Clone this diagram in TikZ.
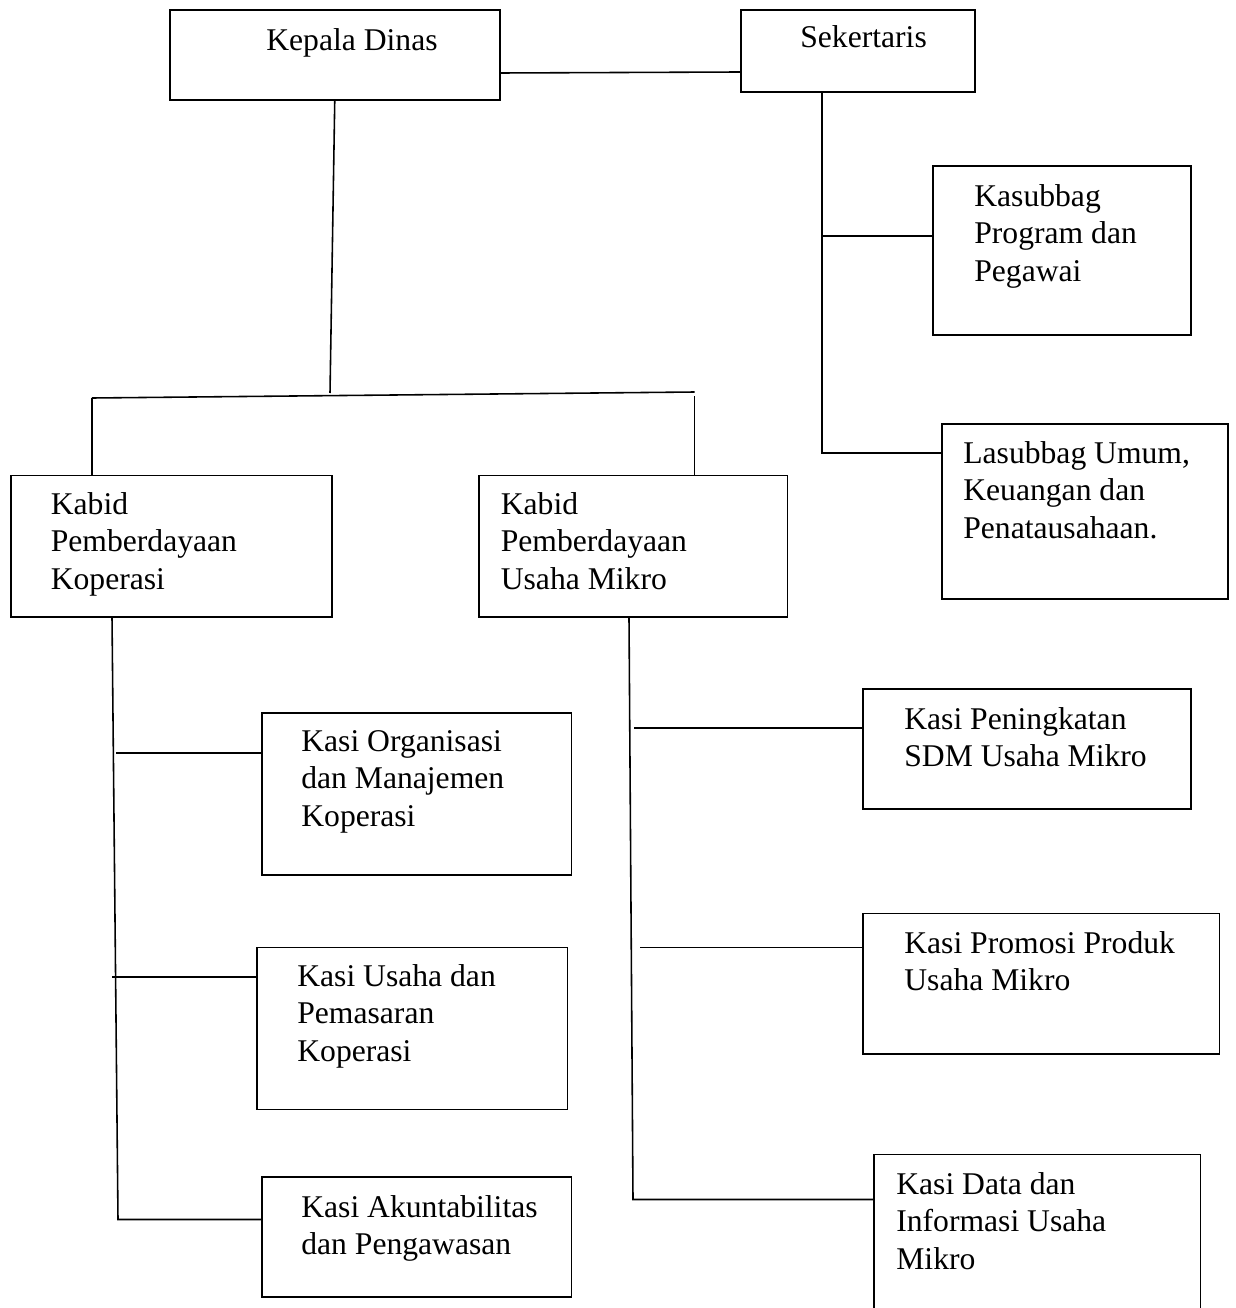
\documentclass[tikz,border=0pt]{standalone}
\usepackage{fontspec}
\setmainfont{Liberation Serif}

\begin{document}
\begin{tikzpicture}[x=0.02cm, y=-0.02cm,
    unit/.style={rectangle, draw, line width=1.1pt, inner sep=0pt},
    lbl/.style={anchor=north west, inner sep=0pt, align=left, font=\fontsize{18pt}{21.3pt}\selectfont},
    link/.style={line width=0.9pt}]
    \useasboundingbox (0,0) rectangle (1236,1308);
    \clip (0,0) rectangle (1236,1308);

    % Head and secretary
    \node[unit, minimum width=6.61cm, minimum height=1.80cm] (kadis) at (334.75,55) {};
    \node[lbl] (kadis-t) at (266,28) {Kepala Dinas};
    \node[unit, minimum width=4.68cm, minimum height=1.64cm] (sek) at (858,51) {};
    \node[lbl] (sek-t) at (800,25) {Sekertaris};

    % Secretariat units
    \node[unit, minimum width=5.17cm, minimum height=3.38cm] (kasubbag) at (1061.75,250.5) {};
    \node[lbl] (kasubbag-t) at (974,184) {Kasubbag\\Program dan\\Pegawai};
    \node[unit, minimum width=5.72cm, minimum height=3.50cm] (lasubbag) at (1085,511.5) {};
    \node[lbl] (lasubbag-t) at (963,441) {Lasubbag Umum,\\Keuangan dan\\Penatausahaan.};

    % Divisions
    \node[unit, minimum width=6.42cm, minimum height=2.83cm] (kabidkop) at (171.5,546.25) {};
    \node[lbl] (kabidkop-t) at (50.5,492) {Kabid\\Pemberdayaan\\Koperasi};
    \node[unit, minimum width=6.17cm, minimum height=2.83cm] (kabidum) at (633.25,546.25) {};
    \node[lbl] (kabidum-t) at (500.5,492) {Kabid\\Pemberdayaan\\Usaha Mikro};

    % Sections under cooperatives
    \node[unit, minimum width=6.19cm, minimum height=3.24cm] (kasiorg) at (416.75,794) {};
    \node[lbl] (kasiorg-t) at (301,730) {Kasi Organisasi\\dan Manajemen\\Koperasi};
    \node[unit, minimum width=6.21cm, minimum height=3.24cm] (kasiusaha) at (412.25,1028.5) {};
    \node[lbl] (kasiusaha-t) at (297,964) {Kasi Usaha dan\\Pemasaran\\Koperasi};
    \node[unit, minimum width=6.19cm, minimum height=2.40cm] (kasiakun) at (416.75,1237) {};
    \node[lbl] (kasiakun-t) at (301,1195) {Kasi Akuntabilitas\\dan Pengawasan};

    % Sections under micro business
    \node[unit, minimum width=6.56cm, minimum height=2.40cm] (kasisdm) at (1027,749) {};
    \node[lbl] (kasisdm-t) at (904,707) {Kasi Peningkatan\\SDM Usaha Mikro};
    \node[unit, minimum width=7.13cm, minimum height=2.81cm] (kasipromo) at (1041.25,983.7) {};
    \node[lbl] (kasipromo-t) at (904,931) {Kasi Promosi Produk\\Usaha Mikro};
    \node[unit, minimum width=6.53cm, minimum height=3.71cm] (kasidata) at (1037.25,1247.25) {};
    \node[lbl] (kasidata-t) at (896,1172) {Kasi Data dan\\Informasi Usaha\\Mikro};

    % Junction points
    \coordinate (bar-l) at (92,398);
    \coordinate (bar-r) at (694.5,392);
    \coordinate (bar-m) at (330,393);
    \coordinate (stub-r) at (694.5,396);
    \coordinate (sek-m) at (822,236);
    \coordinate (sek-j) at (822,453);
    \coordinate (kop-a) at (116,753);
    \coordinate (kop-b) at (112,977);
    \coordinate (kop-end) at (118,1219.5);
    \coordinate (um-a) at (634,728);
    \coordinate (um-b) at (640,947.6);
    \coordinate (um-end) at (633,1199.5);

    % Head to secretary and divisions
    \draw[link] ([yshift=-0.36cm]kadis.east) -- ([yshift=-0.42cm]sek.west);
    \draw[link] (kadis.south) -- (bar-m);
    \draw[link] (bar-l) -- (bar-r);
    \draw[link] (bar-l) -- (kabidkop.north -| bar-l);
    \draw[link] (stub-r) -- (kabidum.north -| stub-r);

    % Secretary branches
    \draw[link] ([xshift=-0.72cm]sek.south) -- (sek-j) -- (lasubbag.west |- sek-j);
    \draw[link] (sek-m) -- (kasubbag.west |- sek-m);

    % Cooperative branches
    \draw[link] ([xshift=-1.19cm]kabidkop.south) -- (kop-end) -- (kasiakun.west |- kop-end);
    \draw[link] (kop-a) -- (kasiorg.west |- kop-a);
    \draw[link] (kop-b) -- (kasiusaha.west |- kop-b);

    % Micro business branches
    \draw[link] ([xshift=-0.085cm]kabidum.south) -- (um-end) -- (kasidata.west |- um-end);
    \draw[link] (um-a) -- (kasisdm.west |- um-a);
    \draw[link] (um-b) -- (kasipromo.west |- um-b);
\end{tikzpicture}
\end{document}
